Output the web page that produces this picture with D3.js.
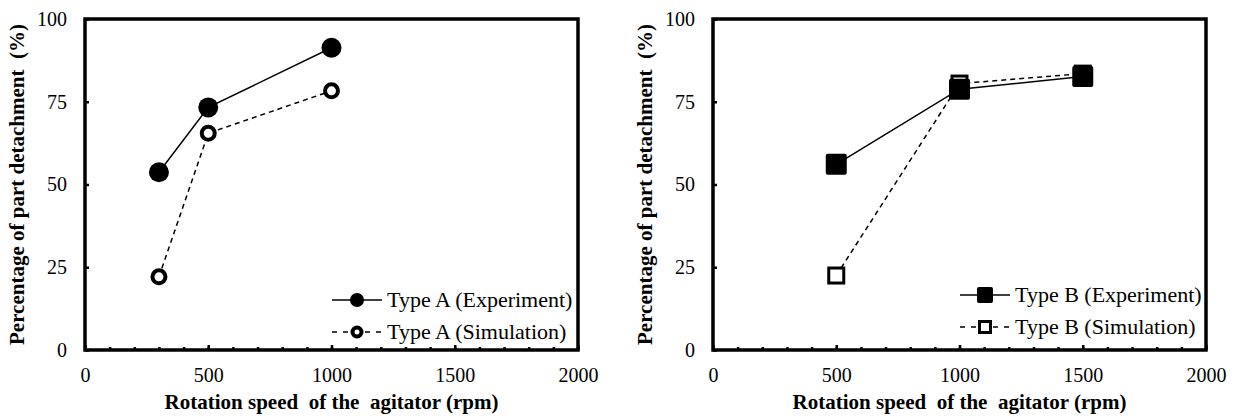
<!DOCTYPE html>
<html><head><meta charset="utf-8">
<script src="https://cdn.jsdelivr.net/npm/d3@7"></script>
<style>
html,body{margin:0;padding:0;background:#fff;}
svg{display:block;}
</style></head>
<body>
<svg id="chart" width="1235" height="418" font-family="Liberation Serif"></svg>
<script>
// ---- data ----
const speedA = [300, 500, 1000];
const expA = [53.7, 73.3, 91.3];
const simA = [22.1, 65.5, 78.3];
const speedB = [500, 1000, 1500];
const expB = [56.1, 78.8, 82.6];
const simB = [22.5, 80.5, 83.5];
const xTicks = [0, 500, 1000, 1500, 2000];
const yTicks = [0, 25, 50, 75, 100];
const legendA = ["Type A (Experiment)", "Type A (Simulation)"];
const legendB = ["Type B (Experiment)", "Type B (Simulation)"];
const xTitle = "Rotation speed\u00a0 of the\u00a0 agitator (rpm)";
const yTitle = "Percentage of part detachment\u00a0 (%)";

const FONT = "Liberation Serif";
const svg = d3.select("#chart");

function panel(opts) {
  const {left, right, top, bottom, xs, ys1, ys2, shape, legend, legX, legY} = opts;
  const g = svg.append("g");
  const x = d3.scaleLinear().domain([0, 2000]).range([left, right]);
  const y = d3.scaleLinear().domain([0, 100]).range([bottom, top]);

  const minor = d3.range(100, 2000, 100);
  g.append("g").attr("transform", `translate(0,${bottom})`)
    .call(d3.axisBottom(x).tickValues(minor).tickSize(-3).tickFormat(""))
    .call(s => s.select(".domain").remove())
    .call(s => s.selectAll("line").attr("stroke-width", 2.5).attr("stroke", "#000"));
  g.append("g").attr("transform", `translate(0,${bottom})`)
    .call(d3.axisBottom(x).tickValues(xTicks).tickSizeInner(-5).tickSizeOuter(0).tickPadding(18).tickFormat(d3.format("d")))
    .attr("font-family", FONT)
    .call(s => s.select(".domain").remove())
    .call(s => s.selectAll("line").attr("stroke-width", 2.5).attr("stroke", "#000"))
    .call(s => s.selectAll("text").attr("font-family", FONT).attr("font-size", 20).attr("fill", "#000"));
  g.append("g").attr("transform", `translate(${left},0)`)
    .call(d3.axisLeft(y).tickValues(yTicks).tickSizeInner(-4).tickSizeOuter(0).tickPadding(18).tickFormat(d3.format("d")))
    .attr("font-family", FONT)
    .call(s => s.select(".domain").remove())
    .call(s => s.selectAll("line").attr("stroke-width", 2.5).attr("stroke", "#000"))
    .call(s => s.selectAll("text").attr("font-family", FONT).attr("font-size", 20).attr("fill", "#000"));

  g.append("rect").attr("x", left).attr("y", top).attr("width", right - left).attr("height", bottom - top)
    .attr("fill", "none").attr("stroke", "#000").attr("stroke-width", 3.5);

  const line = d3.line().x(d => x(d[0])).y(d => y(d[1]));
  const d1 = xs.map((v, i) => [v, ys1[i]]);
  const d2 = xs.map((v, i) => [v, ys2[i]]);
  g.append("path").attr("d", line(d2)).attr("fill", "none").attr("stroke", "#000").attr("stroke-width", 1.5).attr("stroke-dasharray", "5,4");
  g.append("path").attr("d", line(d1)).attr("fill", "none").attr("stroke", "#000").attr("stroke-width", 1.5);

  function marker(sel, cx, cy, filled, size) {
    if (shape === "circle") {
      if (filled) sel.append("circle").attr("cx", cx).attr("cy", cy).attr("r", size / 2).attr("fill", "#000");
      else sel.append("circle").attr("cx", cx).attr("cy", cy).attr("r", size / 2 - 2).attr("fill", "#fff").attr("stroke", "#000").attr("stroke-width", 4);
    } else {
      if (filled) sel.append("rect").attr("x", cx - size / 2).attr("y", cy - size / 2).attr("width", size).attr("height", size).attr("rx", 2).attr("fill", "#000");
      else sel.append("rect").attr("x", cx - size / 2 + 1.5).attr("y", cy - size / 2 + 1.5).attr("width", size - 3).attr("height", size - 3).attr("fill", "#fff").attr("stroke", "#000").attr("stroke-width", 3);
    }
  }
  d2.forEach(d => marker(g, x(d[0]), y(d[1]), false, shape === "circle" ? 17 : 18));
  d1.forEach(d => marker(g, x(d[0]), y(d[1]), true, shape === "circle" ? 20 : 21));

  legend.forEach((lab, i) => {
    const ly = legY + i * 32;
    g.append("line").attr("x1", legX).attr("x2", legX + 50).attr("y1", ly).attr("y2", ly)
      .attr("stroke", "#000").attr("stroke-width", 1.5).attr("stroke-dasharray", i === 0 ? null : "5,6");
    marker(g, legX + 25, ly, i === 0, shape === "circle" ? (i === 0 ? 14 : 13) : (i === 0 ? 16 : 14));
    g.append("text").attr("x", legX + 55).attr("y", ly).attr("dy", "0.33em")
      .attr("font-family", FONT).attr("font-size", 22).attr("fill", "#000").text(lab);
  });

  g.append("text").attr("x", (left + right) / 2).attr("y", 402).attr("dy", "0.35em")
    .attr("text-anchor", "middle").attr("font-family", FONT).attr("font-weight", "bold").attr("font-size", 21).attr("fill", "#000")
    .text(xTitle);
  g.append("text").attr("transform", `translate(${left - 68},${(top + bottom) / 2}) rotate(-90)`)
    .attr("dy", "0.35em").attr("text-anchor", "middle").attr("font-family", FONT).attr("font-weight", "bold").attr("font-size", 21).attr("fill", "#000")
    .text(yTitle);
}

panel({left: 85, right: 578, top: 19, bottom: 350, xs: speedA, ys1: expA, ys2: simA, shape: "circle", legend: legendA, legX: 332, legY: 300});
panel({left: 713, right: 1206, top: 19, bottom: 350, xs: speedB, ys1: expB, ys2: simB, shape: "square", legend: legendB, legX: 960, legY: 295});
</script>
</body></html>
